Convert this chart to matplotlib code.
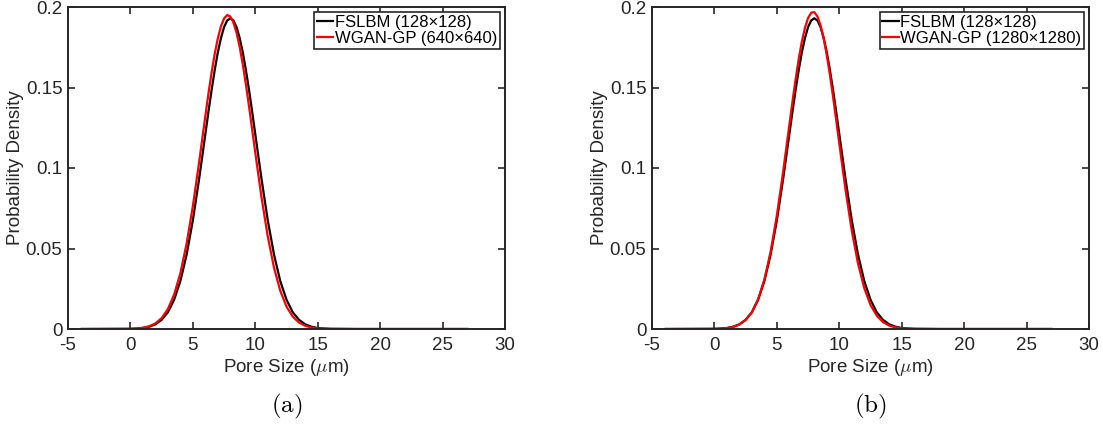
"""
Pore size distributions: FSLBM reference vs WGAN-GP generated samples.
"""

import matplotlib
matplotlib.use("Agg")
import matplotlib.pyplot as plt

plt.rcParams["font.family"] = ["Liberation Sans", "DejaVu Sans"]
plt.rcParams["mathtext.fontset"] = "cm"
plt.rcParams["axes.unicode_minus"] = False

# pore size grid (um)
pore_size = [-3.9, 0.0, 0.5, 1.0, 1.5, 2.0, 2.5, 3.0, 3.5, 4.0, 4.5, 5.0, 5.5,
             6.0, 6.25, 6.5, 6.75, 7.0, 7.25, 7.5, 7.75, 8.0, 8.25, 8.5, 8.75,
             9.0, 9.25, 9.5, 9.75, 10.0, 10.5, 11.0, 11.5, 12.0, 12.5, 13.0,
             13.5, 14.0, 14.5, 15.0, 15.5, 16.0, 18.0, 27.0]

fslbm_128 = [0.0, 0.0001, 0.0003, 0.0006, 0.0014, 0.0029, 0.0057, 0.0104, 0.0182,
             0.0298, 0.0462, 0.0675, 0.0931,
             0.1210, 0.1350, 0.1484, 0.1608, 0.1718, 0.1807, 0.1875, 0.1916,
             0.1930, 0.1916, 0.1875, 0.1807, 0.1718, 0.1608, 0.1484, 0.1350,
             0.1210, 0.0931, 0.0675, 0.0462, 0.0298, 0.0182, 0.0104,
             0.0057, 0.0029, 0.0014, 0.0006, 0.0003, 0.0001, 0.0, 0.0]

wgan_640 = [0.0, 0.0001, 0.0003, 0.0008, 0.0017, 0.0035, 0.0068, 0.0124, 0.0214,
            0.0347, 0.0531, 0.0764, 0.1036,
            0.1324, 0.1464, 0.1594, 0.1709, 0.1806, 0.1881, 0.1929, 0.1950,
            0.1941, 0.1903, 0.1839, 0.1751, 0.1642, 0.1517, 0.1381, 0.1238,
            0.1094, 0.0816, 0.0574, 0.0380, 0.0237, 0.0139, 0.0077,
            0.0040, 0.0020, 0.0009, 0.0004, 0.0002, 0.0001, 0.0, 0.0]

wgan_1280 = [0.0, 0.0001, 0.0002, 0.0006, 0.0013, 0.0028, 0.0056, 0.0105, 0.0186,
             0.0308, 0.0481, 0.0706, 0.0976,
             0.1268, 0.1413, 0.1551, 0.1677, 0.1785, 0.1871, 0.1932, 0.1965,
             0.1968, 0.1941, 0.1885, 0.1804, 0.1700, 0.1577, 0.1442, 0.1298,
             0.1151, 0.0864, 0.0610, 0.0406, 0.0254, 0.0149, 0.0083,
             0.0043, 0.0021, 0.0010, 0.0004, 0.0002, 0.0001, 0.0, 0.0]

x_ticks = [-5, 0, 5, 10, 15, 20, 25, 30]
y_ticks = [0, 0.05, 0.1, 0.15, 0.2]
y_ticklabels = ["0", "0.05", "0.1", "0.15", "0.2"]

panels = [
    ("WGAN-GP (640\u00d7640)", wgan_640, "(a)"),
    ("WGAN-GP (1280\u00d71280)", wgan_1280, "(b)"),
]

AX_COLOR = "#262626"

fig = plt.figure(figsize=(11.03, 4.29), dpi=100)
lefts = [68 / 1103, 652 / 1103]

for left, (gan_label, gan_vals, caption) in zip(lefts, panels):
    ax = fig.add_axes([left, 100 / 429, 437 / 1103, 322 / 429])
    ax.plot(pore_size, fslbm_128, color="black", lw=1.6, label="FSLBM (128\u00d7128)")
    ax.plot(pore_size, gan_vals, color="#ff0000", lw=1.6, label=gan_label)

    ax.set_xlim(-5, 30)
    ax.set_ylim(0, 0.2)
    ax.set_xticks(x_ticks)
    ax.set_yticks(y_ticks)
    ax.set_yticklabels(y_ticklabels)
    ax.tick_params(direction="in", top=True, right=True, length=5, width=1.2,
                   color=AX_COLOR, labelsize=13.5, labelcolor=AX_COLOR)
    ax.tick_params(axis="x", pad=6)
    ax.tick_params(axis="y", pad=4)
    for s in ax.spines.values():
        s.set_color(AX_COLOR)
        s.set_linewidth(1.4)

    ax.set_xlabel(r"Pore Size ($\mu$m)", fontsize=13.5, color=AX_COLOR, labelpad=2)
    ax.set_ylabel("Probability Density", fontsize=13.5, color=AX_COLOR, labelpad=1)

    leg = ax.legend(loc="upper right", fontsize=12, handlelength=1.0,
                    handletextpad=0.1, borderpad=0.15, labelspacing=0.1,
                    borderaxespad=0.3, fancybox=False, framealpha=1)
    leg.get_frame().set_edgecolor(AX_COLOR)
    leg.get_frame().set_linewidth(1.2)

    ax.text(0.5, -0.24, r"$\mathrm{%s}$" % caption, transform=ax.transAxes,
            ha="center", va="center", fontsize=18)

fig.savefig("out.png", dpi=100)
